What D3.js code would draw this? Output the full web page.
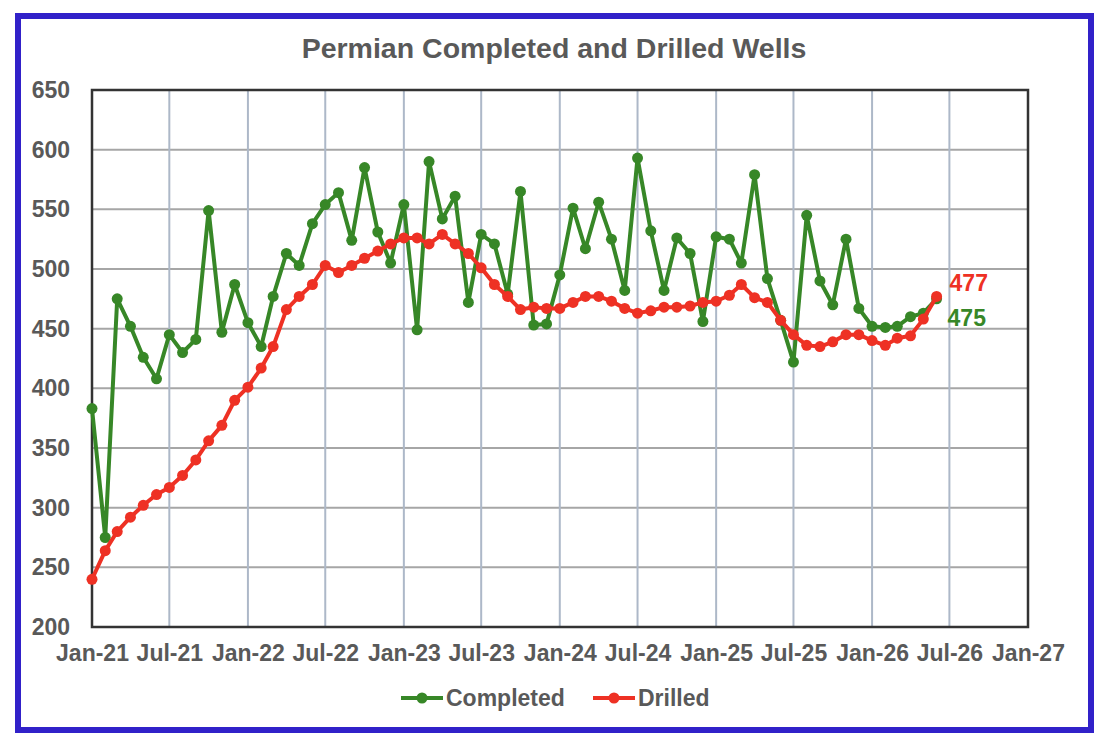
<!DOCTYPE html>
<html>
<head>
<meta charset="utf-8">
<script src="https://cdn.jsdelivr.net/npm/d3@7"></script>
<style>
  html, body { margin: 0; padding: 0; background: #fff; }
  svg { display: block; font-family: "Liberation Sans", Arial, sans-serif; }
</style>
</head>
<body>
<svg id="chart" width="1104" height="742"></svg>
<script>
// ---- data ----
const months = [
  "2021-01","2021-02","2021-03","2021-04","2021-05","2021-06","2021-07","2021-08","2021-09","2021-10","2021-11","2021-12",
  "2022-01","2022-02","2022-03","2022-04","2022-05","2022-06","2022-07","2022-08","2022-09","2022-10","2022-11","2022-12",
  "2023-01","2023-02","2023-03","2023-04","2023-05","2023-06","2023-07","2023-08","2023-09","2023-10","2023-11","2023-12",
  "2024-01","2024-02","2024-03","2024-04","2024-05","2024-06","2024-07","2024-08","2024-09","2024-10","2024-11","2024-12",
  "2025-01","2025-02","2025-03","2025-04","2025-05","2025-06","2025-07","2025-08","2025-09","2025-10","2025-11","2025-12",
  "2026-01","2026-02","2026-03","2026-04","2026-05","2026-06"
];
const completed = [
  383,275,475,452,426,408,445,430,441,549,447,487,
  455,435,477,513,503,538,554,564,524,585,531,505,
  554,449,590,542,561,472,529,521,479,565,453,454,
  495,551,517,556,525,482,593,532,482,526,513,456,
  527,525,505,579,492,457,422,545,490,470,525,467,
  452,451,452,460,463,475
];
const drilled = [
  240,264,280,292,302,311,317,327,340,356,369,390,
  401,417,435,466,477,487,503,497,503,509,515,521,
  526,526,521,529,521,513,501,487,477,466,468,467,
  467,472,477,477,473,467,463,465,468,468,469,472,
  473,478,487,476,472,457,445,436,435,439,445,445,
  440,436,442,444,458,477
];
const yTicks = [200,250,300,350,400,450,500,550,600,650];
const xDomain = ["2021-01","2027-01"];
const seriesNames = ["Completed","Drilled"];
const titleText = "Permian Completed and Drilled Wells";

// ---- styles ----
const GREEN = "#378727", RED = "#EE3124", TEXT = "#595959";
const parse = d3.timeParse("%Y-%m");
const dates = months.map(parse);

const svg = d3.select("#chart");
const L = 92, R = 1028, T = 90, B = 627;

const x = d3.scaleTime().domain(xDomain.map(parse)).range([L, R]);
const y = d3.scaleLinear().domain([200, 650]).range([B, T]);

// outer blue border
svg.append("rect").attr("x", 18).attr("y", 16).attr("width", 1073).attr("height", 714)
  .attr("fill", "#fff").attr("stroke", "#3121C9").attr("stroke-width", 6);

// title
svg.append("text").attr("x", 554).attr("y", 58).attr("text-anchor", "middle")
  .attr("font-size", 28.5).attr("font-weight", "bold").attr("fill", TEXT).text(titleText);

// grid
const xTickDates = d3.timeMonth.every(6).range(parse(xDomain[0]), d3.timeDay.offset(parse(xDomain[1]), 1));
svg.append("g").selectAll("line").data(yTicks).join("line")
  .attr("x1", L).attr("x2", R).attr("y1", d => y(d)).attr("y2", d => y(d))
  .attr("stroke", "#A6A6A6").attr("stroke-width", 2);
svg.append("g").selectAll("line").data(xTickDates).join("line")
  .attr("x1", d => x(d)).attr("x2", d => x(d)).attr("y1", T).attr("y2", B)
  .attr("stroke", "#ADB8C8").attr("stroke-width", 2);

// plot border
svg.append("rect").attr("x", L).attr("y", T).attr("width", R - L).attr("height", B - T)
  .attr("fill", "none").attr("stroke", "#333").attr("stroke-width", 2.5);

// axes (labels only)
const yAxis = svg.append("g").attr("transform", `translate(${L},0)`)
  .call(d3.axisLeft(y).tickValues(yTicks).tickSize(0).tickPadding(22));
yAxis.select(".domain").remove();
yAxis.selectAll("text").attr("font-size", 23).attr("font-weight", "bold").attr("fill", TEXT)
  .attr("font-family", "Liberation Sans, Arial, sans-serif");

const fmt = d3.timeFormat("%b-%y");
const xAxis = svg.append("g").attr("transform", `translate(0,${B})`)
  .call(d3.axisBottom(x).tickValues(xTickDates).tickFormat(fmt).tickSize(0).tickPadding(18));
xAxis.select(".domain").remove();
xAxis.selectAll("text").attr("font-size", 23).attr("font-weight", "bold").attr("fill", TEXT)
  .attr("font-family", "Liberation Sans, Arial, sans-serif");

// series
const line = d3.line().x(d => x(d[0])).y(d => y(d[1]));
function drawSeries(vals, color) {
  const pts = dates.map((d, i) => [d, vals[i]]);
  svg.append("path").datum(pts).attr("d", line).attr("fill", "none")
    .attr("stroke", color).attr("stroke-width", 4).attr("stroke-linejoin", "round");
  svg.append("g").selectAll("circle").data(pts).join("circle")
    .attr("cx", d => x(d[0])).attr("cy", d => y(d[1])).attr("r", 5.5).attr("fill", color);
}
drawSeries(completed, GREEN);
drawSeries(drilled, RED);

// end labels
const lastD = dates[dates.length - 1];
svg.append("text").attr("x", x(lastD) + 13).attr("y", y(drilled[drilled.length - 1]) - 5)
  .attr("font-size", 23).attr("font-weight", "bold").attr("fill", RED).text(drilled[drilled.length - 1]);
svg.append("text").attr("x", x(lastD) + 11).attr("y", y(completed[completed.length - 1]) + 27)
  .attr("font-size", 23).attr("font-weight", "bold").attr("fill", GREEN).text(completed[completed.length - 1]);

// legend
const legend = [
  { name: seriesNames[0], color: GREEN, x0: 401 },
  { name: seriesNames[1], color: RED, x0: 593 }
];
const lg = svg.append("g");
legend.forEach(it => {
  lg.append("line").attr("x1", it.x0).attr("x2", it.x0 + 42).attr("y1", 698).attr("y2", 698)
    .attr("stroke", it.color).attr("stroke-width", 4);
  lg.append("circle").attr("cx", it.x0 + 21).attr("cy", 698).attr("r", 5.5).attr("fill", it.color);
  lg.append("text").attr("x", it.x0 + 45).attr("y", 706).attr("font-size", 23).attr("font-weight", "bold")
    .attr("fill", TEXT).text(it.name);
});
</script>
</body>
</html>
